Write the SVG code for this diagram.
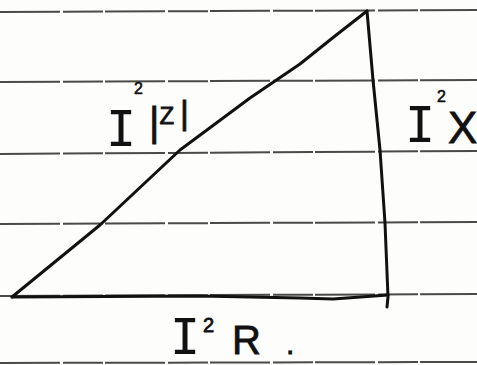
<svg xmlns="http://www.w3.org/2000/svg" width="477" height="365" viewBox="0 0 477 365">
<style>
.rule{stroke:#4a4a4a;stroke-width:2;fill:none;stroke-dasharray:60 3 40 2}
.edge{stroke:#111;stroke-width:3;fill:none;stroke-linecap:round;stroke-linejoin:round}
.lbl{font-family:"Liberation Sans",Arial,sans-serif;fill:#111;stroke:#111;stroke-width:0.8}
.eye{font-family:"DejaVu Sans Mono","Liberation Mono",monospace;font-size:50px;fill:#111}
.big{font-size:44px}
.sup{font-size:16px;stroke-width:0.6}
</style>
<rect width="477" height="365" fill="#fdfdfc"/>
<g id="paper-rules">
<line class="rule" x1="0" y1="12" x2="477" y2="10"/>
<line class="rule" x1="0" y1="82" x2="477" y2="80"/>
<line class="rule" x1="0" y1="154" x2="477" y2="151"/>
<line class="rule" x1="0" y1="224" x2="477" y2="222"/>
<line class="rule" x1="0" y1="296" x2="477" y2="294"/>
<line class="rule" x1="0" y1="363" x2="477" y2="362"/>
</g>
<g id="connectors">
<path id="hypotenuse" class="edge" d="M12,297 L100,225 L180,150 L250,98 L300,64 L335,36 L367,11"/>
<path id="vertical" class="edge" d="M367,11 L373,80 L380,150 L385,223 L388,297 L387,307"/>
<path id="base" class="edge" d="M12,297 L200,296 L300,298 L333,299 L388,295"/>
</g>
<g id="label-Z">
<text class="eye" x="106" y="146">I</text>
<text class="lbl sup" x="134" y="94">2</text>
<text class="lbl" x="149" y="136" font-size="40">|<tspan font-size="24" dy="-12">Z</tspan><tspan font-size="34" dx="6">|</tspan></text>
</g>
<g id="label-X">
<text class="eye" x="405" y="142" font-size="46">I</text>
<text class="lbl sup" x="437" y="102">2</text>
<text class="lbl big" x="448" y="143">X</text>
</g>
<g id="label-R">
<text class="eye" x="170" y="354" font-size="42">I</text>
<text class="lbl" x="203" y="332" font-size="20" stroke-width="0.6">2</text>
<text class="lbl" x="232" y="354" font-size="40">R</text>
<text class="lbl" x="286" y="354" font-size="30">.</text>
</g>
</svg>
